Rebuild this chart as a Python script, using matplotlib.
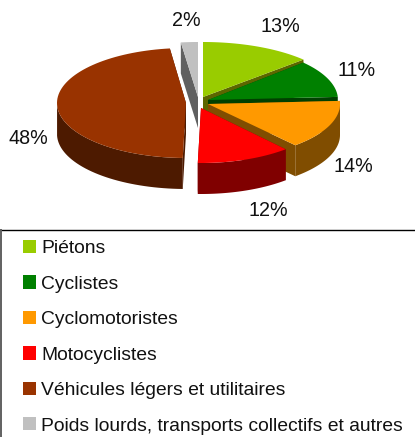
import numpy as np
import matplotlib
matplotlib.use("Agg")
import matplotlib.pyplot as plt
from matplotlib.patches import Patch, Polygon

categories = ["Piétons", "Cyclistes", "Cyclomotoristes", "Motocyclistes",
              "Véhicules légers et utilitaires",
              "Poids lourds, transports collectifs et autres"]
# they round to the printed percentages
shares = [13.1, 11.0, 14.4, 11.9, 47.6, 2.0]
top_colors = ["#99cc00", "#008000", "#ff9900", "#ff0000", "#993300", "#c0c0c0"]
side_colors = ["#5c6600", "#004000", "#804d00", "#800000", "#4d1a00", "#606060"]

# apex of every exploded slice, and its radius, in pixels
apex_x = [203, 208, 208, 201, 186, 198]
apex_y = [97, 100, 104, 108, 103, 97]
radius_x = [137, 130, 132, 128, 129, 137]
radius_y = 55
depth = 31

# back to front painting order
draw_order = [5, 0, 1, 2, 4, 3]

label_x = [280, 357, 353, 268, 28, 186]
label_y = [26, 70, 166, 210, 139, 21]

plt.rcParams['font.family'] = ['Liberation Sans', 'DejaVu Sans']

fig = plt.figure(figsize=(4.15, 4.37), dpi=100)
ax = fig.add_axes([0, 0, 1, 1])
ax.set_xlim(0, 415)
ax.set_ylim(437, 0)
ax.axis('off')

ends = np.cumsum(shares) / 100 * 2 * np.pi
starts = ends - np.array(shares) / 100 * 2 * np.pi


def rim(i, angles):
    x = apex_x[i] + radius_x[i] * np.sin(angles)
    y = apex_y[i] - radius_y * np.cos(angles)
    return np.column_stack((x, y))


def draw_slice(i):
    angles = np.linspace(starts[i], ends[i], 80)
    edge = rim(i, angles)
    apex = np.array([apex_x[i], apex_y[i]])
    down = np.array([0, depth])

    # walls along the two straight cuts
    for p in (edge[0], edge[-1]):
        wall = [apex, p, p + down, apex + down]
        ax.add_patch(Polygon(wall, fc=side_colors[i], ec='none'))

    # outer wall, only the part facing the viewer
    front = angles[np.cos(angles) < 0]
    if len(front) > 1:
        f = rim(i, front)
        ax.add_patch(Polygon(np.vstack((f, f[::-1] + down)),
                             fc=side_colors[i], ec='none'))

    ax.add_patch(Polygon(np.vstack((apex, edge)), fc=top_colors[i], ec='none'))


for i in draw_order:
    draw_slice(i)

for i, s in enumerate(shares):
    ax.text(label_x[i], label_y[i], f"{s:.0f}%", fontsize=14.2, color='#111111',
            ha='center', va='center')

# legend box, cut by the bottom and right of the picture
ax.plot([0, 415], [229.5, 229.5], color='black', lw=1.0, solid_capstyle='butt')
ax.plot([1, 1], [229, 437], color='#606060', lw=1.4, solid_capstyle='butt')

handles = [Patch(fc=c, ec='none') for c in top_colors]
ax.legend(handles, categories, loc='upper left', bbox_to_anchor=(23 / 415, 1 - 240 / 437),
          frameon=False, fontsize=13.85, borderpad=0, borderaxespad=0,
          handlelength=0.68, handleheight=0.68, handletextpad=0.26,
          labelspacing=0.94, labelcolor='#111111')

fig.savefig("out.png", dpi=100)
